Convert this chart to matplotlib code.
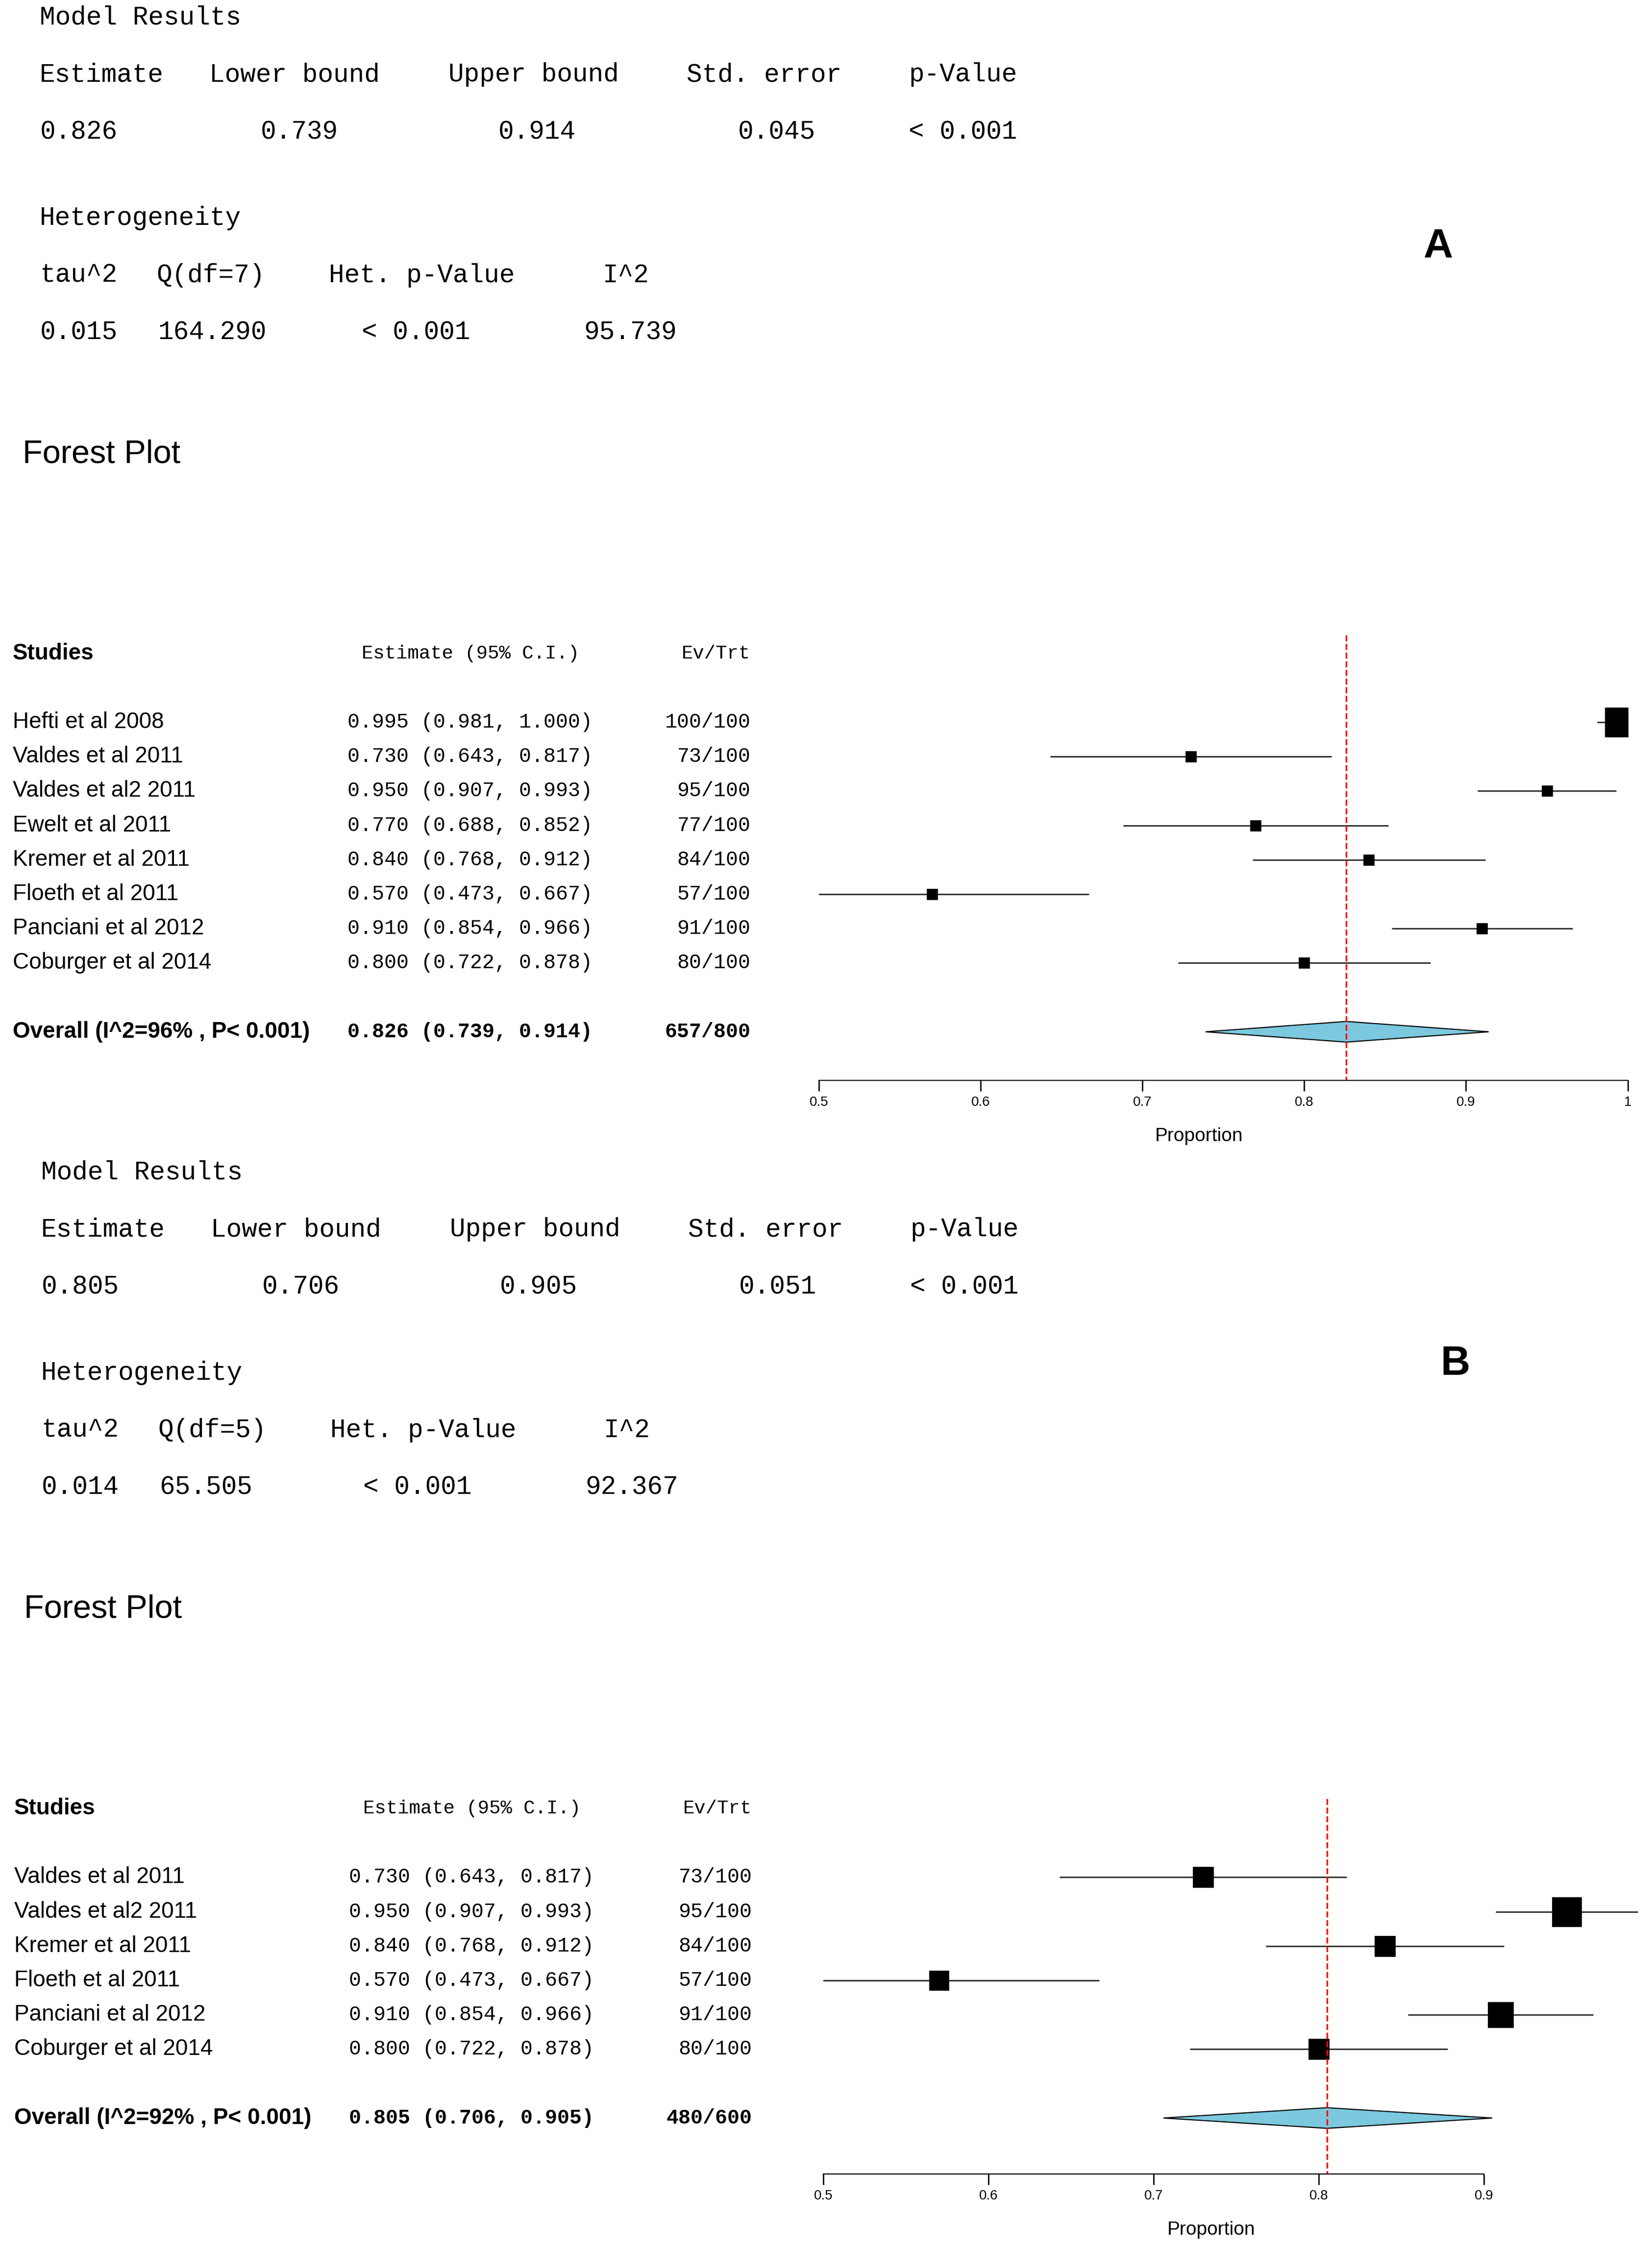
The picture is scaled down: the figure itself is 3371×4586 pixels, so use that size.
import matplotlib
matplotlib.use("Agg")
import matplotlib.pyplot as plt
from matplotlib.patches import Polygon

W, H = 1160.0, 1568.0  # layout grid in reference-view pixels

# ---------------- data ----------------
a_studies = ["Hefti et al 2008", "Valdes et al 2011", "Valdes et al2 2011", "Ewelt et al 2011",
             "Kremer et al 2011", "Floeth et al 2011", "Panciani et al 2012", "Coburger et al 2014"]
a_est = [0.995, 0.730, 0.950, 0.770, 0.840, 0.570, 0.910, 0.800]
a_lo = [0.981, 0.643, 0.907, 0.688, 0.768, 0.473, 0.854, 0.722]
a_hi = [1.000, 0.817, 0.993, 0.852, 0.912, 0.667, 0.966, 0.878]
a_ev = ["100/100", "73/100", "95/100", "77/100", "84/100", "57/100", "91/100", "80/100"]
a_wt = [20, 7, 7, 7, 7, 7, 7, 7]
a_overall = (0.826, 0.739, 0.914, "657/800", "Overall (I^2=96% , P< 0.001)")
a_model = ["0.826", "0.739", "0.914", "0.045", "< 0.001"]
a_het = ["0.015", "164.290", "< 0.001", "95.739"]
a_df = 7

b_studies = ["Valdes et al 2011", "Valdes et al2 2011", "Kremer et al 2011", "Floeth et al 2011",
             "Panciani et al 2012", "Coburger et al 2014"]
b_est = [0.730, 0.950, 0.840, 0.570, 0.910, 0.800]
b_lo = [0.643, 0.907, 0.768, 0.473, 0.854, 0.722]
b_hi = [0.817, 0.993, 0.912, 0.667, 0.966, 0.878]
b_ev = ["73/100", "95/100", "84/100", "57/100", "91/100", "80/100"]
b_wt = [14, 20, 14, 13, 17, 14]
b_overall = (0.805, 0.706, 0.905, "480/600", "Overall (I^2=92% , P< 0.001)")
b_model = ["0.805", "0.706", "0.905", "0.051", "< 0.001"]
b_het = ["0.014", "65.505", "< 0.001", "92.367"]
b_df = 5

MONO = "Liberation Mono"
SANS = "Liberation Sans"
FM = 19   # model text
FT = 15   # table mono
FS = 16.5 # study labels

fig = plt.figure(figsize=(16.855, 22.93), dpi=200)


def txt(x, y, s, **kw):
    kw.setdefault("va", "center")
    fig.text(x / W, 1 - y / H, s, **kw)


def panel(y0, dx, label, lx, ly, studies, est, lo, hi, ev, wt, overall, model, het, df,
          ax_left, xmax_px, xlim, red_top, axis_y, tick_max):
    # model results block
    txt(28 + dx, y0, "Model Results", family=MONO, fontsize=FM)
    for x, s in zip([28, 147, 315, 482, 638],
                    ["Estimate", "Lower bound", "Upper bound", "Std. error", "p-Value"]):
        txt(x + dx, y0 + 40, s, family=MONO, fontsize=FM)
    for x, s in zip([28, 183, 350, 518, 638], model):
        txt(x + dx, y0 + 80, s, family=MONO, fontsize=FM)
    txt(28 + dx, y0 + 140, "Heterogeneity", family=MONO, fontsize=FM)
    for x, s in zip([28, 110, 231, 423],
                    ["tau^2", "Q(df=%d)" % df, "Het. p-Value", "I^2"]):
        txt(x + dx, y0 + 180, s, family=MONO, fontsize=FM)
    for x, s in zip([28, 111, 254, 410], het):
        txt(x + dx, y0 + 220, s, family=MONO, fontsize=FM)
    txt(lx, ly, label, family=SANS, fontsize=30, fontweight="bold", ha="center")
    txt(16 + dx, y0 + 305, "Forest Plot", family=SANS, fontsize=24)

    # table
    ty = y0 + 444
    txt(9 + dx, ty, "Studies", family=SANS, fontsize=FS, fontweight="bold")
    txt(254 + dx, ty, "Estimate (95% C.I.)", family=MONO, fontsize=FT - 1)
    txt(527 + dx, ty, "Ev/Trt", family=MONO, fontsize=FT - 1, ha="right")
    row0 = ty + 48
    for i, s in enumerate(studies):
        y = row0 + 24 * i
        txt(9 + dx, y, s, family=SANS, fontsize=FS)
        txt(244 + dx, y, "%.3f (%.3f, %.3f)" % (est[i], lo[i], hi[i]), family=MONO, fontsize=FT)
        txt(527 + dx, y, ev[i], family=MONO, fontsize=FT, ha="right")
    oy = row0 + 24 * (len(studies) - 1) + 48
    txt(9 + dx, oy, overall[4], family=SANS, fontsize=FS, fontweight="bold")
    txt(244 + dx, oy, "%.3f (%.3f, %.3f)" % overall[:3], family=MONO, fontsize=FT,
        fontweight="bold")
    txt(527 + dx, oy, overall[3], family=MONO, fontsize=FT, ha="right", fontweight="bold")

    # forest axes: y in row units
    top_px, bot_px = red_top - 5, axis_y + 20
    ax = fig.add_axes([ax_left / W, 1 - bot_px / H, (xmax_px - ax_left) / W, (bot_px - top_px) / H])
    ax.set_xlim(*xlim)
    ax.set_ylim((bot_px - row0) / 24, (top_px - row0) / 24)
    n = len(studies)
    rows = list(range(n))
    ax.hlines(rows, lo, hi, color="#333333", lw=1.1)
    for r, e, w in zip(rows, est, wt):
        ax.plot(e, r, marker="s", color="black", ms=w * 1.05, ls="none")
    orow = (oy - row0) / 24
    m, l, h = overall[:3]
    ax.add_patch(Polygon([(l, orow), (m, orow - 0.3), (h, orow), (m, orow + 0.3)],
                         closed=True, facecolor="#7CC8DE", edgecolor="black", lw=0.8))
    ax.vlines(m, (red_top - row0) / 24, (axis_y - row0) / 24, color="red", ls="--", lw=1.2)
    for s in ["top", "right", "left"]:
        ax.spines[s].set_visible(False)
    ax.spines["bottom"].set_position(("data", (axis_y - row0) / 24))
    ax.spines["bottom"].set_bounds(0.5, tick_max)
    ticks = [0.5, 0.6, 0.7, 0.8, 0.9] + ([1.0] if tick_max >= 1 else [])
    ax.set_xticks(ticks)
    ax.set_xticklabels(["%g" % t for t in ticks], family=SANS, fontsize=10)
    ax.tick_params(axis="x", length=8, width=1)
    ax.set_yticks([])
    ax.patch.set_visible(False)
    txt((ax_left + (0.735 - xlim[0]) / (xlim[1] - xlim[0]) * (xmax_px - ax_left)),
        axis_y + 39, "Proportion", family=SANS, fontsize=14, ha="center")


panel(12, 0, "A", 1010, 172, a_studies, a_est, a_lo, a_hi, a_ev, a_wt, a_overall, a_model,
      a_het, a_df, 575, 1143, (0.5, 1.0), 443, 754, 1.0)
panel(818, 1, "B", 1022, 952, b_studies, b_est, b_lo, b_hi, b_ev, b_wt, b_overall, b_model,
      b_het, b_df, 578, 1158, (0.5, 0.5 + (1158 - 578) / 1160), 1255, 1517, 0.9)

fig.savefig("out.png", dpi=200)
